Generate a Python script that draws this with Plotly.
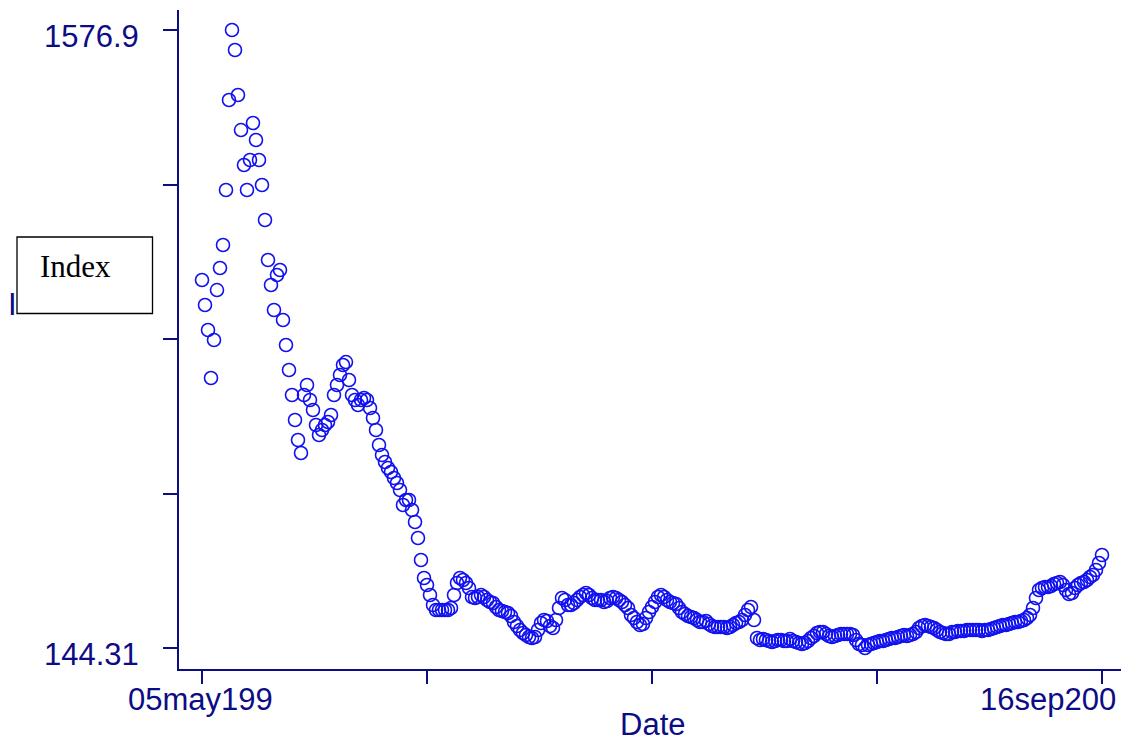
import pandas as pd
import plotly.graph_objects as go

# ---- data ----
start_date = "1997-05-05"
end_date = "2003-09-16"

index_values = [
    997.3, 939.4, 881.4, 770.2, 858.3, 974.1, 1025.2, 1078.5, 1206.0, 1414.6,
    1576.9, 1530.5, 1426.2, 1345.0, 1263.9, 1206.0, 1275.5, 1361.3, 1321.9, 1275.5,
    1217.6, 1136.4, 1043.8, 985.8, 927.8, 1009.0, 1020.5, 904.6, 846.7, 788.7,
    730.8, 672.8, 626.4, 596.3, 730.8, 753.9, 719.2, 696.0, 661.2, 638.0,
    649.6, 661.2, 668.2, 684.4, 730.8, 753.9, 777.1, 800.3, 807.2, 765.5,
    730.8, 719.2, 707.6, 719.2, 723.8, 719.2, 700.6, 677.4, 649.6, 614.9,
    591.7, 575.5, 561.5, 552.3, 538.4, 526.8, 510.5, 475.8, 487.4, 487.4,
    464.2, 436.4, 399.3, 348.3, 306.6, 290.3, 267.2, 244.0, 232.4, 232.4,
    232.4, 232.4, 232.4, 237.0, 267.2, 295.0, 306.6, 301.9, 295.0, 283.4,
    262.5, 260.2, 262.5, 267.2, 262.5, 255.6, 250.9, 248.6, 239.3, 232.4,
    230.1, 227.8, 225.4, 218.5, 204.6, 195.3, 186.0, 179.1, 174.4, 169.8,
    167.5, 169.8, 186.0, 202.3, 209.2, 206.9, 195.3, 190.7, 209.2, 237.0,
    260.2, 255.6, 244.0, 244.0, 248.6, 255.6, 262.5, 267.2, 271.8, 267.2,
    260.2, 255.6, 255.6, 255.6, 250.9, 253.3, 260.2, 262.5, 260.2, 255.6,
    250.9, 244.0, 237.0, 220.8, 213.8, 204.6, 197.6, 199.9, 213.8, 227.8,
    239.3, 250.9, 262.5, 267.2, 262.5, 255.6, 250.9, 248.6, 246.3, 237.0,
    227.8, 223.1, 218.5, 216.2, 213.8, 209.2, 204.6, 204.6, 206.9, 199.9,
    195.3, 193.0, 193.0, 193.0, 193.0, 190.7, 193.0, 197.6, 202.3, 204.6,
    209.2, 220.8, 232.4, 239.3, 209.2, 167.5, 162.9, 165.2, 162.9, 160.5,
    158.2, 160.5, 162.9, 162.9, 160.5, 160.5, 165.2, 160.5, 158.2, 155.9,
    153.6, 155.9, 160.5, 167.5, 172.1, 179.1, 181.4, 181.4, 176.8, 172.1,
    169.8, 172.1, 174.4, 176.8, 176.8, 176.8, 176.8, 174.4, 162.9, 153.6,
    151.3, 144.31, 151.3, 153.6, 155.9, 158.2, 160.5, 160.5, 162.9, 165.2,
    167.5, 167.5, 169.8, 172.1, 174.4, 172.1, 174.4, 176.8, 181.4, 190.7,
    195.3, 197.6, 195.3, 193.0, 190.7, 186.0, 181.4, 179.1, 176.8, 176.8,
    181.4, 181.4, 183.7, 183.7, 183.7, 186.0, 186.0, 186.0, 186.0, 186.0,
    183.7, 186.0, 186.0, 188.3, 190.7, 193.0, 195.3, 197.6, 197.6, 199.9,
    202.3, 204.6, 204.6, 206.9, 209.2, 213.8, 220.8, 237.0, 260.2, 278.7,
    283.4, 285.7, 285.7, 288.0, 292.7, 295.0, 297.3, 290.3, 278.7, 269.5,
    271.8, 283.4, 290.3, 295.0, 297.3, 301.9, 308.9, 313.5, 325.1, 341.3,
    359.9,
]

y_tick_values = [144.31, 502.46, 860.61, 1218.75, 1576.9]
y_tick_labels = ["144.31", "", "", "", "1576.9"]
x_tick_labels = ["05may199", "", "", "", "16sep200"]
x_title = "Date"
y_title = "Index"
legend_text = "Index"

# ---- figure (page body has an 8px margin) ----
OFF = 8
W, H = 1129 - OFF, 744 - OFF
L, R, T, B = 179 - OFF, 4, 10 - OFF, 75
PW, PH = W - L - R, H - T - B

def px_x(px):
    return (px - OFF - L) / PW

def px_y(py):
    return (H + OFF - B - py) / PH

dates = pd.date_range(start_date, end_date, periods=len(index_values))
x_ticks = pd.date_range(start_date, end_date, periods=5)
span = dates[-1] - dates[0]
x_range = [dates[0] - span * (23 / 900), dates[-1] + span * (23 / 900)]
ypx = (1576.9 - 144.31) / 618.0
y_range = [144.31 - 21 * ypx, 1576.9 + 20 * ypx]

navy = "#0c0c84"
blue = "#1010f0"
sans = "Liberation Sans, Arial, sans-serif"
serif = "Liberation Serif, Times New Roman, serif"

fig = go.Figure()
fig.add_trace(go.Scatter(
    x=dates, y=index_values, mode="markers",
    marker=dict(symbol="circle-open", size=13, color=blue,
                line=dict(width=1.6, color=blue)),
    showlegend=False, hoverinfo="x+y",
))

fig.update_layout(
    width=W, height=H,
    margin=dict(l=L, r=R, t=T, b=B, pad=0),
    paper_bgcolor="white", plot_bgcolor="white",
    xaxis=dict(
        range=x_range, showgrid=False, zeroline=False,
        showline=True, linecolor=navy, linewidth=1.5,
        ticks="outside", ticklen=13, tickwidth=1.5, tickcolor=navy,
        tickvals=list(x_ticks), ticktext=[""] * 5,
    ),
    yaxis=dict(
        range=y_range, showgrid=False, zeroline=False,
        showline=True, linecolor=navy, linewidth=1.5,
        ticks="outside", ticklen=14, tickwidth=1.5, tickcolor=navy,
        tickvals=y_tick_values, ticktext=[""] * 5,
    ),
)

ann = []
for v, t in zip(y_tick_values, y_tick_labels):
    if t:
        ann.append(dict(text=t, xref="paper", yref="y", x=0, y=v,
                        xanchor="right", yanchor="middle", xshift=-38, yshift=-6,
                        showarrow=False, font=dict(family=sans, size=31, color=navy)))
ann.append(dict(text=x_tick_labels[0], xref="x", yref="paper", x=x_ticks[0], y=0,
                xanchor="center", yanchor="middle", xshift=-2, yshift=-30,
                showarrow=False, font=dict(family=sans, size=31, color=navy)))
ann.append(dict(text=x_tick_labels[-1], xref="x", yref="paper", x=x_ticks[-1], y=0,
                xanchor="right", yanchor="middle", xshift=16, yshift=-30,
                showarrow=False, font=dict(family=sans, size=31, color=navy)))
ann.append(dict(text=x_title, xref="paper", yref="paper", x=0.5, y=0,
                xanchor="center", yanchor="middle", yshift=-55,
                showarrow=False, font=dict(family=sans, size=31, color=navy)))
# y title: only its first letter shows; the rest lies under the legend box
ann.append(dict(text=y_title[0], xref="paper", yref="paper", x=px_x(5.5), y=px_y(305),
                xanchor="left", yanchor="middle",
                showarrow=False, font=dict(family=sans, size=31, color=navy)))
ann.append(dict(text=legend_text, xref="paper", yref="paper", x=px_x(37.5), y=px_y(266),
                xanchor="left", yanchor="middle",
                showarrow=False, font=dict(family=serif, size=31, color="black")))

fig.update_layout(annotations=ann)
fig.add_shape(type="rect", xref="paper", yref="paper",
              x0=px_x(17), x1=px_x(152.5), y0=px_y(313.5), y1=px_y(237),
              line=dict(color="black", width=1.3), fillcolor="white", layer="above")

fig.write_html("out.html")
